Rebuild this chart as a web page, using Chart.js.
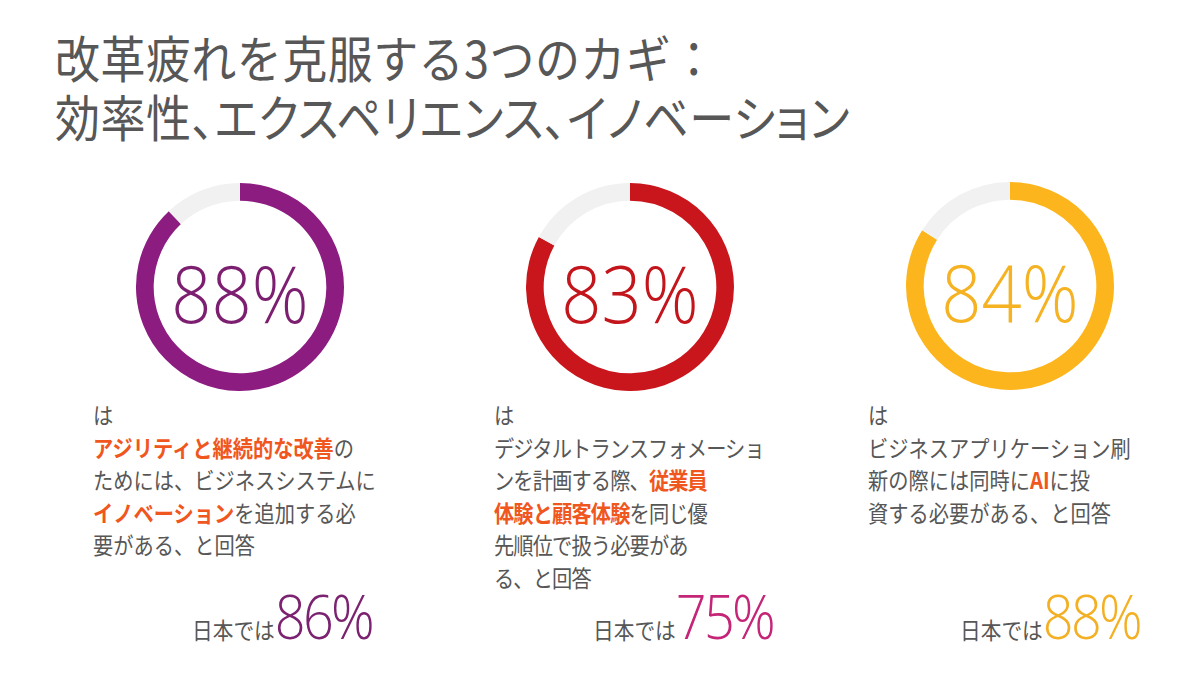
<!DOCTYPE html>
<html lang="ja">
<head>
<meta charset="utf-8">
<script src="https://cdn.jsdelivr.net/npm/chart.js@4.4.0/dist/chart.umd.min.js"></script>
<style>
    html, body { margin: 0; padding: 0; background: #fff; }
    body {
        width: 1202px; height: 673px; position: relative; overflow: hidden;
        font-family: "Noto Sans CJK JP", sans-serif; color: #575757;
    }
    .title {
        position: absolute; left: 55px;
        font-size: 50px; line-height: 52px; white-space: nowrap;
        transform: scaleX(0.9); transform-origin: left top;
    }
    .title.l1 { top: 30px; letter-spacing: 0.5px; }
    .title.l2 { top: 89px; font-feature-settings: "palt"; letter-spacing: 0.6px; }
    .ring { position: absolute; width: 208px; height: 208px; }
    .ring canvas { position: absolute; left: 0; top: 0; }
    .ring .pct {
        position: absolute; left: 0; right: 0; top: 10px; bottom: 0;
        display: flex; align-items: center; justify-content: center;
        font-family: "Open Sans", Lato, sans-serif; font-weight: 300;
        font-size: 80px; line-height: 1;
    }
    .ring .pct span { display: inline-block; transform: scaleX(0.88); }
    .desc {
        position: absolute; top: 398px;
        font-size: 23px; line-height: 32.5px; white-space: nowrap;
        transform: scaleX(0.88); transform-origin: left top;
    }
    .desc.tight { letter-spacing: -1px; }
    .desc b { color: #F0571E; font-weight: 700; }
    .japan {
        position: absolute; top: 586px; white-space: nowrap; text-align: right;
        transform: scaleX(0.9); transform-origin: right top;
    }
    .japan .lbl { font-size: 23px; }
    .japan .num {
        font-family: "Open Sans", Lato, sans-serif; font-weight: 300;
        font-size: 60px; line-height: 60px; letter-spacing: -3px;
    }
</style>
</head>
<body>
<div class="title l1">改革疲れを克服する3つのカギ：</div>
<div class="title l2">効率性、エクスペリエンス、イノベーション</div>

<div class="ring" style="left:136px; top:183px;"><canvas id="chart0" width="208" height="208"></canvas><div class="pct"><span id="pct0"></span></div></div>
<div class="ring" style="left:526px; top:183px;"><canvas id="chart1" width="208" height="208"></canvas><div class="pct"><span id="pct1"></span></div></div>
<div class="ring" style="left:906px; top:182px;"><canvas id="chart2" width="208" height="208"></canvas><div class="pct"><span id="pct2"></span></div></div>

<div class="desc" style="left:93px;">は<br><b>アジリティと継続的な改善</b>の<br>ためには、ビジネスシステムに<br><b>イノベーション</b>を追加する必<br>要がある、と回答</div>
<div class="desc tight" style="left:494px;">は<br>デジタルトランスフォメーショ<br>ンを計画する際、<b>従業員</b><br><b>体験と顧客体験</b>を同じ優<br>先順位で扱う必要があ<br>る、と回答</div>
<div class="desc" style="left:868px;">は<br>ビジネスアプリケーション刷<br>新の際には同時に<b>AI</b>に投<br>資する必要がある、と回答</div>

<div class="japan" style="right:830px;"><span class="lbl">日本では</span><span class="num" id="jp0"></span></div>
<div class="japan" style="right:429px;"><span class="lbl">日本では</span><span class="num" id="jp1"></span></div>
<div class="japan" style="right:62px;"><span class="lbl">日本では</span><span class="num" id="jp2"></span></div>

<script>
// Survey results (percent answering yes)
const globalValues = [88, 83, 84];
const japanValues = [86, 75, 88];

// Colours per panel
const ringColors = ['#8C1C80', '#C9151C', '#FCB51D'];
const centerColors = ['#7D1F70', '#C3161C', '#F5B222'];
const japanColors = ['#7B2270', '#C42577', '#F4B024'];
const restColor = '#F1F1F1';

document.addEventListener('DOMContentLoaded', function() {
    globalValues.forEach((value, i) => {
        const ctx = document.getElementById('chart' + i);
        new Chart(ctx, {
            type: 'doughnut',
            data: {
                labels: ['はい', 'その他'],
                datasets: [{
                    data: [value, 100 - value],
                    backgroundColor: [ringColors[i], restColor],
                    borderWidth: 0
                }]
            },
            options: {
                responsive: false,
                animation: false,
                cutout: '83%',
                rotation: 0,
                layout: { padding: 0 },
                plugins: {
                    legend: { display: false },
                    tooltip: { enabled: false }
                }
            }
        });

        const pct = document.getElementById('pct' + i);
        pct.textContent = value + '%';
        pct.style.color = centerColors[i];

        const jp = document.getElementById('jp' + i);
        jp.textContent = japanValues[i] + '%';
        jp.style.color = japanColors[i];
    });
});
</script>
</body>
</html>
